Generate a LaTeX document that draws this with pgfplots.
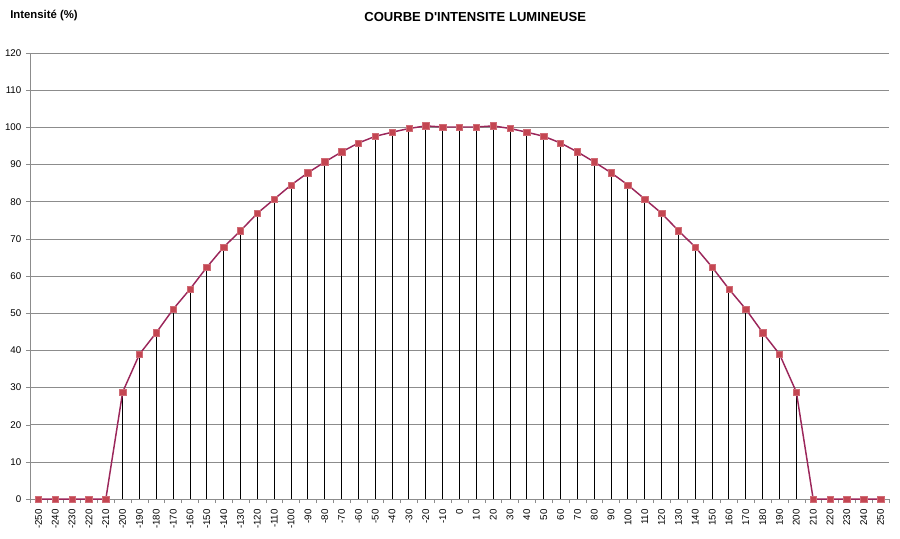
\documentclass[border=0pt]{standalone}
\usepackage{fontspec}
\setmainfont{Liberation Sans}
\usepackage{pgfplots}
\pgfplotsset{compat=1.18}
\definecolor{courbe}{RGB}{155,38,90}
\definecolor{point}{RGB}{196,70,82}
\definecolor{grille}{RGB}{140,140,140}

\pgfplotstableread{
x y
-250 0
-240 0
-230 0
-220 0
-210 0
-200 28.8
-190 39.0
-180 44.8
-170 51.1
-160 56.5
-150 62.4
-140 67.8
-130 72.2
-120 76.9
-110 80.7
-100 84.5
-90 87.8
-80 90.7
-70 93.4
-60 95.8
-50 97.6
-40 98.7
-30 99.7
-20 100.4
-10 100.1
0 100.1
10 100.1
20 100.4
30 99.7
40 98.7
50 97.6
60 95.8
70 93.4
80 90.7
90 87.8
100 84.5
110 80.7
120 76.9
130 72.2
140 67.8
150 62.4
160 56.5
170 51.1
180 44.8
190 39.0
200 28.8
210 0
220 0
230 0
240 0
250 0
}\intensite

\begin{document}
\begin{tikzpicture}
\begin{axis}[
  name=ax,
  scale only axis,
  width=644pt, height=334.5pt,
  xmin=-255, xmax=255,
  ymin=0, ymax=120,
  axis lines=left,
  axis line style={grille, -},
  xtick={-250,-240,...,250},
  minor xtick={-255,-245,...,255},
  ytick={0,10,...,120},
  ymajorgrids,
  major grid style={grille, line width=0.5pt},
  major x tick style={draw=none},
  minor x tick style={grille, line width=0.4pt},
  major y tick style={grille, line width=0.4pt},
  tick align=outside,
  major tick length=3pt,
  minor tick length=3pt,
  /pgf/number format/assume math mode=true,
  tick label style={font=\fontsize{7.3}{8}\selectfont},
  x tick label style={rotate=90, anchor=east, yshift=0pt, xshift=-1pt},
  clip=false,
]
\addplot[ycomb, black, line width=0.75pt, mark=none] table {\intensite};
\addplot[courbe, line width=1.1pt, mark=square*,
  mark size=2.4pt, mark options={fill=point, draw=point!80!white, line width=0.4pt}]
  table {\intensite};
\end{axis}
\node[font=\bfseries\fontsize{9.8}{11}\selectfont, anchor=center]
  at ([xshift=333.75pt, yshift=27pt]ax.north west) {COURBE D\textquotesingle INTENSITE LUMINEUSE};
\node[font=\bfseries\fontsize{8.5}{10}\selectfont, anchor=west, inner sep=0pt]
  at ([xshift=-15pt, yshift=28pt]ax.north west) {Intensité (\%)};
\pgfresetboundingbox
\useasboundingbox ([xshift=-22.5pt, yshift=-29.25pt]ax.south west)
  rectangle ([xshift=8.25pt, yshift=39.75pt]ax.north east);
\end{tikzpicture}
\end{document}
